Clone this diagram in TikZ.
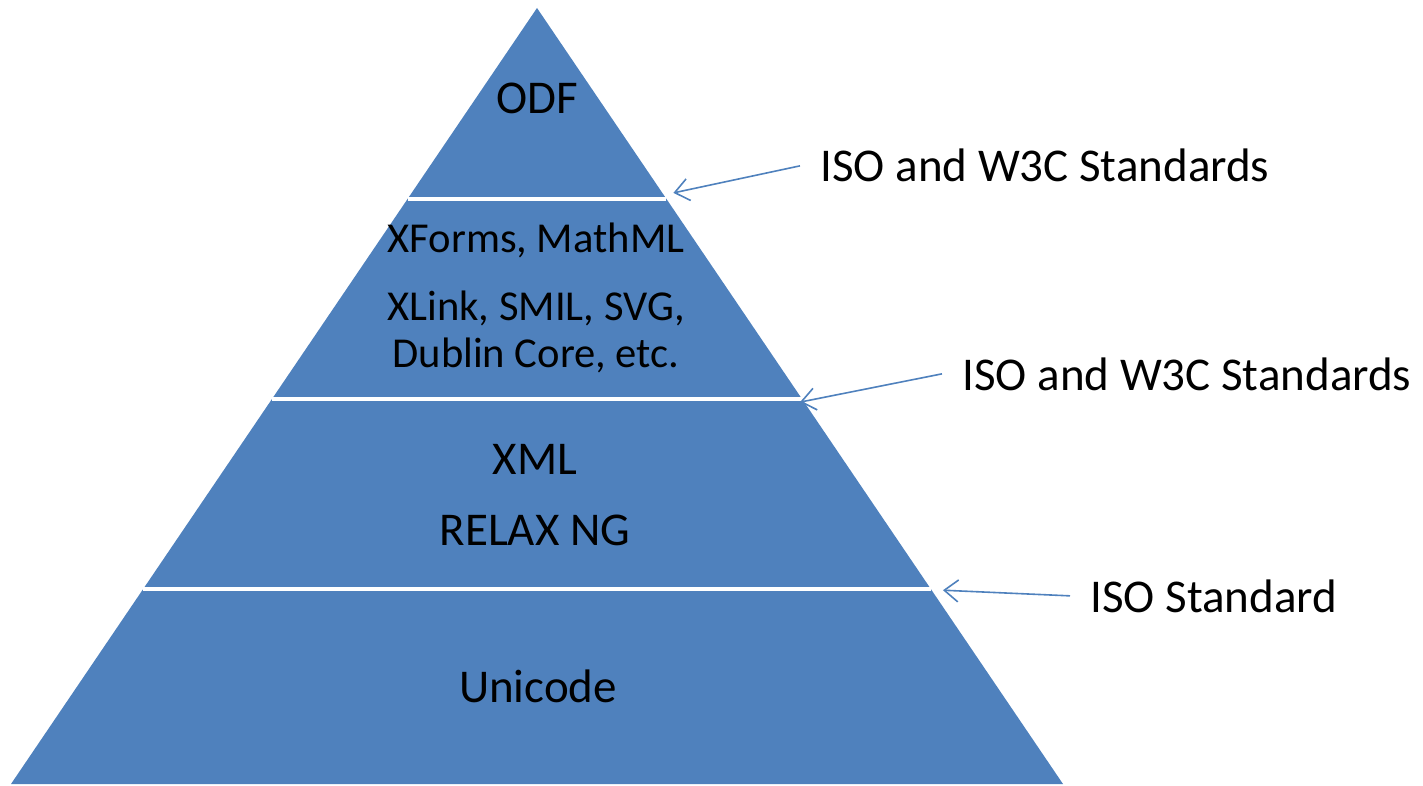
\documentclass[tikz,border=0pt]{standalone}
\usepackage{fontspec}
\setmainfont{Carlito}
\usetikzlibrary{arrows.meta,calc}

\definecolor{layerblue}{HTML}{4F81BD}

\begin{document}
\begin{tikzpicture}[x=0.5pt,y=-0.5pt]
  \tikzset{>={Straight Barb[length=7pt,width=11pt]},
    layer/.style={font=\fontsize{23.5}{24}\selectfont, anchor=base, inner sep=0pt},
    small layer/.style={layer, font=\fontsize{21.3}{24}\selectfont},
    std/.style={font=\fontsize{23.5}{24}\selectfont, anchor=base west, inner xsep=10pt, inner ysep=0pt},
    sep/.style={white, line width=2pt},
    link/.style={->, layerblue, line width=0.8pt}}
  \useasboundingbox (0,0) rectangle (1423,786);
  \coordinate (apex) at (537,8);
  \coordinate (bl) at (11,784);
  \coordinate (br) at (1063,784);
  \fill[layerblue] (apex) -- (br) -- (bl) -- cycle;
  % white cuts between the layers
  \foreach \t/\n in {0.246/odf,0.504/forms,0.749/xml}
    \draw[sep] ($(apex)!\t!(bl)$) -- ($(apex)!\t!(br)$) coordinate (\n);
  % layer texts
  \node[layer] (odflbl) at (537,114) {ODF};
  \node[small layer] (formslbl) at (536,252) {XForms, MathML};
  \node[small layer] (linklbl) at (536,320) {XLink, SMIL, SVG,};
  \node[small layer] (corelbl) at (536,367) {Dublin Core, etc.};
  \node[layer] (xmllbl) at (535,474) {XML};
  \node[layer] (relaxlbl) at (535,545) {RELAX NG};
  \node[layer] (unilbl) at (538,702) {Unicode};
  % standards on the right
  \node[std] (isoa) at (800,182) {ISO and W3C Standards};
  \node[std] (isob) at (942,390) {ISO and W3C Standards};
  \node[std] (isoc) at (1070,612) {ISO Standard};
  \coordinate (odftip) at ($(odf)+(7,-6)$);
  \coordinate (formstip) at ($(forms)+(-2,3)$);
  \coordinate (xmltip) at ($(xml)+(12,1)$);
  \draw[link] (isoa.west) -- (odftip);
  \draw[link] (isob.west) -- (formstip);
  \draw[link] (isoc.west) -- (xmltip);
\end{tikzpicture}
\end{document}
